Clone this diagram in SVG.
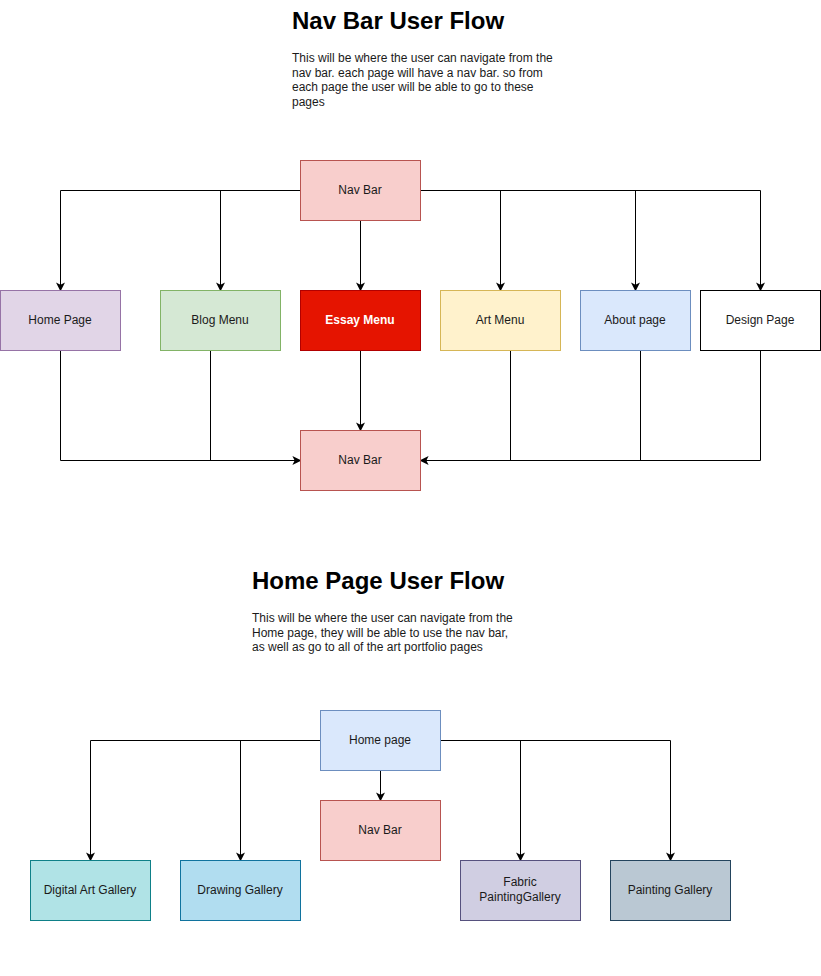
<svg xmlns="http://www.w3.org/2000/svg" width="821" height="976" viewBox="0 0 821 976">
<style>
.t{font-family:"Liberation Sans",Arial,sans-serif;font-size:12px;fill:#1a1a1a;text-anchor:middle;dominant-baseline:central}
.h{font-family:"Liberation Sans",Arial,sans-serif;font-size:24px;font-weight:bold;fill:#000}
.d{font-family:"Liberation Sans",Arial,sans-serif;font-size:12px;fill:#1a1a1a}
.e{fill:none;stroke:#000;stroke-width:1}
</style>
<defs>
<marker id="a" viewBox="0 0 10 10" refX="9" refY="5" markerWidth="9" markerHeight="9" markerUnits="userSpaceOnUse" orient="auto">
<path d="M0,0 L10,5 L0,10 L2.5,5 Z" fill="#000"/>
</marker>
</defs>
<rect width="821" height="976" fill="#fff"/>
<g id="title1">
<text class="h" x="292" y="29">Nav Bar User Flow</text>
<text class="d" x="292" y="62">This will be where the user can navigate from the</text>
<text class="d" x="292" y="77">nav bar. each page will have a nav bar. so from</text>
<text class="d" x="292" y="91">each page the user will be able to go to these</text>
<text class="d" x="292" y="106">pages</text>
</g>
<g id="title2">
<text class="h" x="252" y="589">Home Page User Flow</text>
<text class="d" x="252" y="622">This will be where the user can navigate from the</text>
<text class="d" x="252" y="637">Home page, they will be able to use the nav bar,</text>
<text class="d" x="252" y="651">as well as go to all of the art portfolio pages</text>
</g>
<g id="connectors" transform="translate(0.5,0.5)">
<path class="e" d="M300,190 H60 V290" marker-end="url(#a)"/>
<path class="e" d="M220,190 V290" marker-end="url(#a)"/>
<path class="e" d="M420,190 H760 V290" marker-end="url(#a)"/>
<path class="e" d="M500,190 V290" marker-end="url(#a)"/>
<path class="e" d="M635,190 V290" marker-end="url(#a)"/>
<path class="e" d="M360,220 V290" marker-end="url(#a)"/>
<path class="e" d="M360,350 V430" marker-end="url(#a)"/>
<path class="e" d="M60,350 V460 H300" marker-end="url(#a)"/>
<path class="e" d="M210,350 V460"/>
<path class="e" d="M760,350 V460 H420" marker-end="url(#a)"/>
<path class="e" d="M510,350 V460"/>
<path class="e" d="M640,350 V460"/>
<path class="e" d="M320,740 H90 V860" marker-end="url(#a)"/>
<path class="e" d="M240,740 V860" marker-end="url(#a)"/>
<path class="e" d="M440,740 H670 V860" marker-end="url(#a)"/>
<path class="e" d="M520,740 V860" marker-end="url(#a)"/>
<path class="e" d="M380,770 V800" marker-end="url(#a)"/>
</g>
<g id="navbar1"><rect x="300.5" y="160.5" width="120" height="60" fill="#f8cecc" stroke="#b85450"/><text class="t" x="360" y="190">Nav Bar</text></g>
<g id="homepage1"><rect x="0.5" y="290.5" width="120" height="60" fill="#e1d5e7" stroke="#9673a6"/><text class="t" x="60" y="320">Home Page</text></g>
<g id="blogmenu"><rect x="160.5" y="290.5" width="120" height="60" fill="#d5e8d4" stroke="#82b366"/><text class="t" x="220" y="320">Blog Menu</text></g>
<g id="essaymenu"><rect x="300.5" y="290.5" width="120" height="60" fill="#e51400" stroke="#b20000"/><text class="t" x="360" y="320" style="fill:#fff;font-weight:bold">Essay Menu</text></g>
<g id="artmenu"><rect x="440.5" y="290.5" width="120" height="60" fill="#fff2cc" stroke="#d6b656"/><text class="t" x="500" y="320">Art Menu</text></g>
<g id="aboutpage"><rect x="580.5" y="290.5" width="110" height="60" fill="#dae8fc" stroke="#6c8ebf"/><text class="t" x="635" y="320">About page</text></g>
<g id="designpage"><rect x="700.5" y="290.5" width="120" height="60" fill="#fff" stroke="#000"/><text class="t" x="760" y="320">Design Page</text></g>
<g id="navbar2"><rect x="300.5" y="430.5" width="120" height="60" fill="#f8cecc" stroke="#b85450"/><text class="t" x="360" y="460">Nav Bar</text></g>
<g id="homepage2"><rect x="320.5" y="710.5" width="120" height="60" fill="#dae8fc" stroke="#6c8ebf"/><text class="t" x="380" y="740">Home page</text></g>
<g id="navbar3"><rect x="320.5" y="800.5" width="120" height="60" fill="#f8cecc" stroke="#b85450"/><text class="t" x="380" y="830">Nav Bar</text></g>
<g id="digitalart"><rect x="30.5" y="860.5" width="120" height="60" fill="#b0e3e6" stroke="#0e8088"/><text class="t" x="90" y="890">Digital Art Gallery</text></g>
<g id="drawing"><rect x="180.5" y="860.5" width="120" height="60" fill="#b1ddf0" stroke="#10739e"/><text class="t" x="240" y="890">Drawing Gallery</text></g>
<g id="fabric"><rect x="460.5" y="860.5" width="120" height="60" fill="#d0cee2" stroke="#56517e"/><text class="t" x="520" y="882">Fabric</text><text class="t" x="520" y="897">PaintingGallery</text></g>
<g id="painting"><rect x="610.5" y="860.5" width="120" height="60" fill="#bac8d3" stroke="#23445d"/><text class="t" x="670" y="890">Painting Gallery</text></g>
</svg>
